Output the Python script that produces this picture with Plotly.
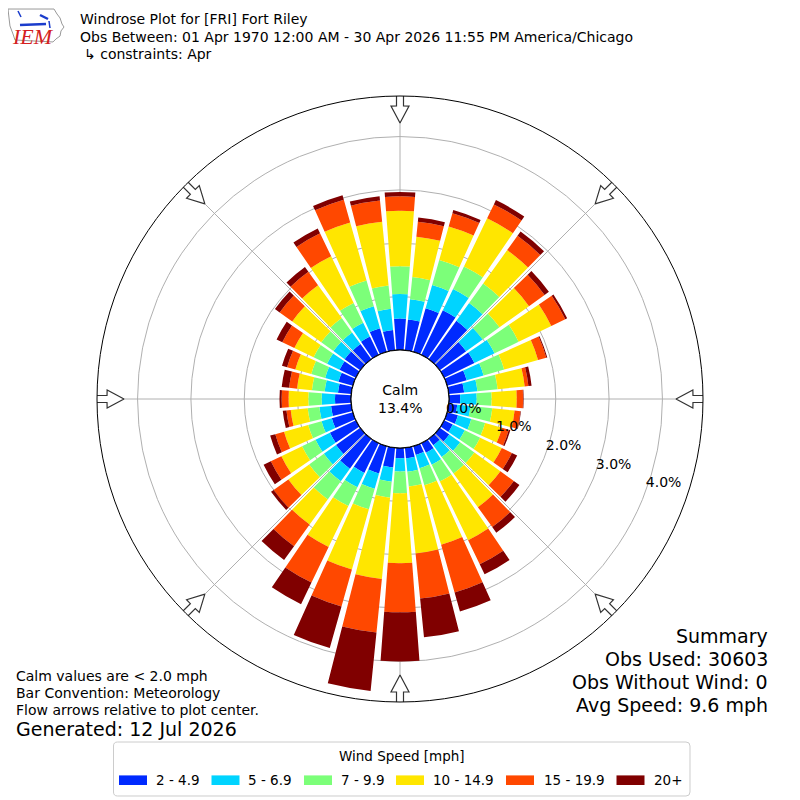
import math
import plotly.graph_objects as go

# ---------------- data ----------------
directions = [0, 10, 20, 30, 40, 50, 60, 70, 80, 90, 100, 110, 120, 130, 140, 150, 160, 170,
              180, 190, 200, 210, 220, 230, 240, 250, 260, 270, 280, 290, 300, 310, 320, 330, 340, 350]

speed_bins = ["2 - 4.9", "5 - 6.9", "7 - 9.9", "10 - 14.9", "15 - 19.9", "20+"]
bin_colors = ["#002aff", "#00d4ff", "#7cff79", "#ffe600", "#ff4800", "#800000"]

pct_2_49 = [0.59, 0.58, 0.85, 0.93, 0.89, 0.61, 0.63, 0.38, 0.29, 0.21, 0.16, 0.21, 0.18, 0.22, 0.15, 0.20, 0.17, 0.20,
            0.19, 0.37, 0.53, 0.62, 0.69, 0.56, 0.54, 0.41, 0.38, 0.30, 0.25, 0.28, 0.34, 0.36, 0.35, 0.38, 0.46, 0.38]
pct_5_69 = [0.46, 0.38, 0.45, 0.44, 0.41, 0.38, 0.42, 0.33, 0.25, 0.31, 0.25, 0.26, 0.25, 0.25, 0.27, 0.25, 0.26, 0.25,
            0.25, 0.27, 0.30, 0.30, 0.29, 0.28, 0.30, 0.20, 0.22, 0.25, 0.25, 0.26, 0.26, 0.26, 0.27, 0.29, 0.43, 0.40]
pct_7_99 = [0.52, 0.42, 0.49, 0.47, 0.45, 0.39, 0.50, 0.40, 0.38, 0.28, 0.41, 0.27, 0.32, 0.33, 0.38, 0.35, 0.33, 0.28,
            0.41, 0.30, 0.40, 0.39, 0.42, 0.34, 0.28, 0.26, 0.22, 0.25, 0.24, 0.27, 0.28, 0.28, 0.33, 0.41, 0.50, 0.44]
pct_10_149 = [1.04, 0.76, 0.65, 1.00, 0.77, 0.68, 0.68, 0.66, 0.51, 0.47, 0.42, 0.33, 0.45, 0.60, 0.78, 1.22, 1.16, 1.26,
              1.31, 1.53, 1.17, 0.85, 0.58, 0.48, 0.43, 0.47, 0.32, 0.37, 0.28, 0.31, 0.40, 0.67, 0.76, 0.97, 1.13, 1.20]
pct_15_199 = [0.27, 0.28, 0.26, 0.29, 0.33, 0.36, 0.29, 0.16, 0.07, 0.12, 0.11, 0.13, 0.21, 0.31, 0.46, 0.50, 0.93, 0.85,
              0.92, 1.01, 0.72, 0.74, 0.50, 0.34, 0.22, 0.17, 0.08, 0.13, 0.15, 0.16, 0.25, 0.29, 0.31, 0.48, 0.44, 0.40]
pct_20_up = [0.08, 0.08, 0.06, 0.09, 0.10, 0.10, 0.04, 0.02, 0.06, 0.01, 0.01, 0.03, 0.11, 0.13, 0.13, 0.21, 0.37, 0.73,
             0.92, 1.10, 0.81, 0.45, 0.32, 0.06, 0.15, 0.10, 0.07, 0.04, 0.14, 0.10, 0.12, 0.11, 0.11, 0.10, 0.09, 0.08]

bins = [pct_2_49, pct_5_69, pct_7_99, pct_10_149, pct_15_199, pct_20_up]

radial_ticks = [0, 1, 2, 3, 4]
radial_tick_text = ["0.0%", "1.0%", "2.0%", "3.0%", "4.0%"]
compass_angles = [0, 45, 90, 135, 180, 225, 270, 315]
compass_text = ["N", "NE", "E", "SE", "S", "SW", "W", "NW"]

calm_pct = "13.4%"
title_lines = ["Windrose Plot for [FRI] Fort Riley",
               "Obs Between: 01 Apr 1970 12:00 AM - 30 Apr 2026 11:55 PM America/Chicago",
               "\u21b3 constraints: Apr"]
notes = ["Calm values are < 2.0 mph", "Bar Convention: Meteorology", "Flow arrows relative to plot center."]
generated = "Generated: 12 Jul 2026"
summary = ["Summary", "Obs Used: 30603", "Obs Without Wind: 0", "Avg Speed: 9.6 mph"]
legend_title = "Wind Speed [mph]"

# ---------------- layout geometry (page pixels) ----------------
OFF = 8                    # page body margin
W = H = 800 - OFF
CX, CY = 400, 399          # centre on page
R_OUT = 303                # outer radius px
R_HOLE = 49                # calm hole radius px
RMAX = 4.76                # radial range max (%)
PX_PER = (R_OUT - R_HOLE) / RMAX
FONT = "DejaVu Sans"


def px_to_r(p):
    return (p - R_HOLE) / PX_PER


def px(x, y):
    """page pixel -> paper fraction"""
    return (x - OFF) / W, 1 - (y - OFF) / H


fig = go.Figure()

for name, vals, col in zip(speed_bins, bins, bin_colors):
    fig.add_trace(go.Barpolar(
        r=vals, theta=directions, width=[8.5] * len(directions), name=name,
        marker=dict(color=col, line=dict(width=0)),
        showlegend=False, hoverinfo="skip"))

# calm circle edge
fig.add_trace(go.Scatterpolar(r=[0] * 361, theta=list(range(361)), mode="lines",
                              line=dict(color="black", width=1.2), showlegend=False, hoverinfo="skip"))

# flow arrows
arrow_shape = [(307, -3.5), (293, -3.5), (293, -9), (276, 0), (293, 9), (293, 3.5), (307, 3.5), (307, -3.5)]
for ang in compass_angles:
    rs = [px_to_r(s) for s, w in arrow_shape]
    ts = [ang + math.degrees(math.atan2(w, s)) for s, w in arrow_shape]
    fig.add_trace(go.Scatterpolar(r=rs, theta=ts, mode="lines", fill="toself", fillcolor="white",
                                  line=dict(color="#333333", width=1.2), cliponaxis=False,
                                  showlegend=False, hoverinfo="skip"))

# compass labels
r_lab = px_to_r(323)
fig.add_trace(go.Scatterpolar(r=[r_lab] * len(compass_angles), theta=compass_angles, mode="text",
                              text=compass_text, textfont=dict(family=FONT, size=14, color="black"),
                              cliponaxis=False, showlegend=False, hoverinfo="skip"))

# radial labels
fig.add_trace(go.Scatterpolar(r=radial_ticks, theta=[110.5] * len(radial_ticks), mode="text",
                              text=radial_tick_text, textposition="top right",
                              textfont=dict(family=FONT, size=14, color="black"),
                              cliponaxis=False, showlegend=False, hoverinfo="skip"))

fcx, fcy = CX - OFF, H - (CY - OFF)
dx0, dx1 = (fcx - R_OUT) / W, (fcx + R_OUT) / W
dy0, dy1 = (fcy - R_OUT) / H, (fcy + R_OUT) / H

fig.update_layout(
    width=W, height=H,
    margin=dict(l=0, r=0, t=0, b=0),
    paper_bgcolor="white",
    font=dict(family=FONT, size=14, color="black"),
    showlegend=False,
    polar=dict(
        domain=dict(x=[dx0, dx1], y=[dy0, dy1]),
        hole=R_HOLE / R_OUT,
        bgcolor="white",
        barmode="stack",
        radialaxis=dict(range=[0, RMAX], tickvals=radial_ticks[1:], showticklabels=False, ticks="",
                        showline=False, gridcolor="#b0b0b0", gridwidth=1, layer="above traces"),
        angularaxis=dict(rotation=90, direction="clockwise", tickvals=compass_angles,
                         showticklabels=False, ticks="", gridcolor="#b0b0b0", gridwidth=1,
                         showline=True, linecolor="black", linewidth=1, layer="above traces"),
    ),
)


def text_ann(x, y, txt, size, anchor="left", **fontkw):
    ax, ay = px(x, y)
    f = dict(family=FONT, size=size, color="black")
    f.update(fontkw)
    return dict(x=ax, y=ay, xref="paper", yref="paper", text=txt, showarrow=False,
                xanchor=anchor, yanchor="middle", font=f)


ann = []
for i, (txt, y) in enumerate(zip(title_lines, [19, 37, 54])):
    ann.append(text_ann(78 if i < 2 else 82, y, txt, 14))
ann.append(text_ann(CX, CY, "Calm<br>" + calm_pct, 14, "center"))
for txt, y in zip(notes, [676, 693, 710]):
    ann.append(text_ann(14, y, txt, 14))
ann.append(text_ann(14, 729, generated, 19))
for txt, y in zip(summary, [636, 659, 682, 705]):
    ann.append(text_ann(770, y, txt, 19, "right"))
ann.append(text_ann(33, 36, "IEM", 22, "center", family="Liberation Serif", color="#d42020", style="italic"))

# ---- legend (drawn as box + patches + labels) ----
shapes = []
lx0, ly0, lx1, ly1, rad = 113.5, 742, 690, 796, 4
p = [px(lx0 + rad, ly0), px(lx1 - rad, ly0), px(lx1, ly0), px(lx1, ly0 + rad), px(lx1, ly1 - rad),
     px(lx1, ly1), px(lx1 - rad, ly1), px(lx0 + rad, ly1), px(lx0, ly1), px(lx0, ly1 - rad),
     px(lx0, ly0 + rad), px(lx0, ly0)]
path = ("M %f,%f L %f,%f Q %f,%f %f,%f L %f,%f Q %f,%f %f,%f L %f,%f Q %f,%f %f,%f L %f,%f Q %f,%f %f,%f Z"
        % (p[0] + p[1] + p[2] + p[3] + p[4] + p[5] + p[6] + p[7] + p[8] + p[9] + p[10] + p[11] + p[0]))
shapes.append(dict(type="path", path=path, xref="paper", yref="paper",
                   line=dict(color="#cccccc", width=1), fillcolor="white", layer="below"))
ann.append(text_ann(402, 756, legend_title, 13.5, "center"))
patch_x = [119, 211.5, 304, 396, 506, 616.5]
label_x = [154, 246, 338.5, 430.7, 542, 652]
for name, col, x0, tx in zip(speed_bins, bin_colors, patch_x, label_x):
    a0, b0 = px(x0, 775.4)
    a1, b1 = px(x0 + 28, 785)
    shapes.append(dict(type="rect", x0=a0, y0=b0, x1=a1, y1=b1, xref="paper", yref="paper",
                       line=dict(width=0), fillcolor=col))
    ann.append(text_ann(tx, 780, name, 13.5))

# ---- logo (decoration) ----
outline_px = [(8, 9), (54, 9), (57, 14), (60, 18), (62, 24), (64, 27), (61, 31), (60, 36), (56, 39),
              (53, 42), (15, 40), (13, 34), (10, 26), (9, 18), (8, 9)]
path = "M " + " L ".join("%.4f,%.4f" % px(x, y) for x, y in outline_px) + " Z"
shapes.append(dict(type="path", path=path, xref="paper", yref="paper", line=dict(color="#999999", width=1)))
for (xa, ya, xb, yb, wdt) in [(20, 25, 46, 24, 2.5), (40, 15, 48, 19, 2.5), (18, 11, 21, 17, 1.5),
                              (49, 21, 50, 28, 1.5)]:
    a0, b0 = px(xa, ya)
    a1, b1 = px(xb, yb)
    shapes.append(dict(type="line", x0=a0, y0=b0, x1=a1, y1=b1, xref="paper", yref="paper",
                       line=dict(color="#1a3ccc", width=wdt)))

fig.update_layout(annotations=ann, shapes=shapes)

fig.write_html("out.html")
